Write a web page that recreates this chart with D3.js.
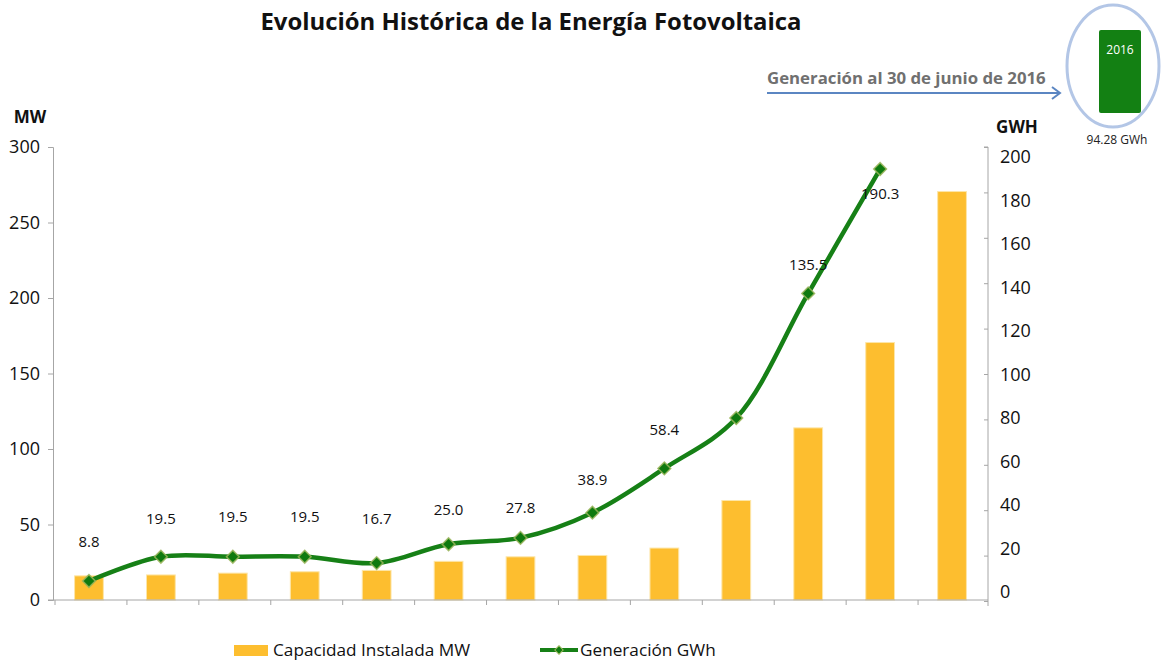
<!DOCTYPE html>
<html><head><meta charset="utf-8">
<script src="https://cdn.jsdelivr.net/npm/d3@7"></script>
<style>
body{margin:0;background:#fff;}
svg{display:block;}
text{font-family:"Open Sans","Noto Sans",sans-serif;}
</style></head>
<body>
<svg id="c" width="1162" height="661"></svg>
<script>
// ---- data ----
const categories = ["2004","2005","2006","2007","2008","2009","2010","2011","2012","2013","2014","2015","2016"];
const capacidadMW = [16, 16.6, 17.8, 18.7, 19.6, 25.6, 28.6, 29.5, 34.4, 65.9, 114, 170.5, 270.5];
const generacionGWh = [8.8, 19.5, 19.5, 19.5, 16.7, 25.0, 27.8, 38.9, 58.4, 80.6, 135.5, 190.3, null];
const generacionLabels = ["8.8","19.5","19.5","19.5","16.7","25.0","27.8","38.9","58.4",null,"135.5","190.3",null];
const leftTicks = [0,50,100,150,200,250,300];
const rightTicks = [0,20,40,60,80,100,120,140,160,180,200];
const titleText = "Evolución Histórica de la Energía Fotovoltaica";
const legendNames = ["Capacidad Instalada MW","Generación GWh"];
const insetYear = "2016";
const insetValue = "94.28 GWh";
const insetNote = "Generación al 30 de junio de 2016";

// ---- layout/style ----
const labelDy = [-39,-38,-40,-40,-44,-35,-30,-33,-39,0,-29,25,0];
const barColor = "#FDBE2F", lineColor = "#168016", axisColor = "#a6a6a6";

const svg = d3.select("#c");
const plot = {left:53, right:988, top:147, bottom:600};

const x = d3.scaleBand().domain(categories).range([plot.left, plot.right]).paddingInner(0.6).paddingOuter(0.3);
const xOuter = d3.scaleBand().domain(categories).range([plot.left, plot.right]);
const yL = d3.scaleLinear().domain([0,300]).range([plot.bottom, plot.top]);
const yR = d3.scaleLinear().domain([0,200]).range([plot.bottom+1, plot.top]);
const yRLab = d3.scaleLinear().domain([0,200]).range([592, 157]);

// title
svg.append("text").attr("x",531).attr("y",30).attr("text-anchor","middle")
  .style("font-size","23.9px").style("font-weight","700").attr("fill","#111")
  .text(titleText);

// bars
svg.append("g").selectAll("rect").data(capacidadMW).join("rect")
  .attr("x",(d,i)=>x(categories[i])).attr("width",x.bandwidth())
  .attr("y",d=>yL(d)).attr("height",d=>plot.bottom-yL(d))
  .attr("fill",barColor).attr("stroke","#fde6a8").attr("stroke-width",1);

// left axis
const gl = svg.append("g").attr("transform",`translate(${plot.left},0)`)
  .call(d3.axisLeft(yL).tickValues(leftTicks).tickSize(5).tickPadding(8));
gl.select(".domain").attr("stroke",axisColor);
gl.selectAll(".tick line").attr("stroke",axisColor);
gl.selectAll(".tick text").style("font-size","18px").attr("fill","#111").style("font-family","'Open Sans',sans-serif");

// right axis (ticks inward)
const gr = svg.append("g").attr("transform",`translate(${plot.right},0)`)
  .call(d3.axisLeft(yR).tickValues(rightTicks).tickSize(4).tickFormat(""));
gr.select(".domain").attr("stroke",axisColor).attr("d",`M-4,${plot.top}H0V${plot.bottom+6}`);
gr.selectAll(".tick line").attr("stroke",axisColor);
const grl = svg.append("g").attr("transform",`translate(${plot.right},0)`)
  .call(d3.axisRight(yRLab).tickValues(rightTicks).tickSize(0).tickPadding(12));
grl.select(".domain").remove();
grl.selectAll(".tick text").style("font-size","18px").attr("fill","#111");

// x axis
const gx = svg.append("g").attr("transform",`translate(0,${plot.bottom})`);
gx.append("line").attr("x1",plot.left-5).attr("x2",plot.right).attr("y1",0).attr("y2",0).attr("stroke",axisColor);
gx.selectAll("line.t").data(categories).join("line").attr("class","t")
  .attr("x1",d=>xOuter(d)+2).attr("x2",d=>xOuter(d)+2).attr("y1",0).attr("y2",5).attr("stroke",axisColor);

// axis titles
svg.append("text").attr("x",30).attr("y",123).attr("text-anchor","middle").style("font-size","17px").style("font-weight","700").attr("fill","#111").text("MW");
svg.append("text").attr("x",1017).attr("y",133).attr("text-anchor","middle").style("font-size","17px").style("font-weight","700").attr("fill","#111").text("GWH");

// line
const pts = generacionGWh.map((v,i)=>({v,i})).filter(d=>d.v!=null);
const cx = d=>x(categories[d.i])+x.bandwidth()/2;
const line = d3.line().x(cx).y(d=>yR(d.v)).curve(d3.curveCatmullRom.alpha(0.5));
svg.append("path").datum(pts).attr("d",line).attr("fill","none")
  .attr("stroke",lineColor).attr("stroke-width",4.5).attr("stroke-linejoin","round");
svg.append("g").selectAll("rect").data(pts).join("rect")
  .attr("x",-4.5).attr("y",-4.5).attr("width",9).attr("height",9)
  .attr("transform",d=>`translate(${cx(d)},${yR(d.v)}) rotate(45)`)
  .attr("fill","#0f7a0f").attr("stroke","#9ab55a").attr("stroke-width",1.5).attr("stroke-opacity",0.85);

// data labels
svg.append("g").selectAll("text").data(pts.filter(d=>generacionLabels[d.i]!=null)).join("text")
  .attr("x",cx).attr("y",d=>yR(d.v)+labelDy[d.i]).attr("dy","0.35em").attr("text-anchor","middle")
  .style("font-size","15px").attr("fill","#111").text(d=>generacionLabels[d.i]);

// legend
const lg = svg.append("g");
lg.append("rect").attr("x",234).attr("y",645).attr("width",34).attr("height",11).attr("fill",barColor);
lg.append("text").attr("x",273).attr("y",650).attr("dy","0.35em").style("font-size","17.2px").attr("fill","#111").text(legendNames[0]);
lg.append("line").attr("x1",540).attr("x2",578).attr("y1",650).attr("y2",650).attr("stroke",lineColor).attr("stroke-width",4);
lg.append("rect").attr("x",-3).attr("y",-3).attr("width",6).attr("height",6).attr("transform","translate(559,650) rotate(45)").attr("fill","#0f7a0f").attr("stroke","#9ab55a");
lg.append("text").attr("x",580).attr("y",650).attr("dy","0.35em").style("font-size","17.2px").attr("fill","#111").text(legendNames[1]);

// inset
svg.append("text").attr("x",767).attr("y",84).style("font-size","16.8px").style("font-weight","700").attr("fill","#707070").text(insetNote);
svg.append("line").attr("x1",767).attr("x2",1060).attr("y1",93).attr("y2",93).attr("stroke","#5b86c2").attr("stroke-width",2);
svg.append("path").attr("d","M1052,87L1060,93L1052,99").attr("fill","none").attr("stroke","#5b86c2").attr("stroke-width",2);
svg.append("ellipse").attr("cx",1113).attr("cy",66).attr("rx",46).attr("ry",61).attr("fill","none").attr("stroke","#b3c6e6").attr("stroke-width",3);
svg.append("rect").attr("x",1099).attr("y",30).attr("width",42).attr("height",83).attr("rx",2).attr("fill","#138013");
svg.append("text").attr("x",1120).attr("y",50).attr("dy","0.35em").attr("text-anchor","middle").style("font-size","12px").attr("fill","#fff").text(insetYear);
svg.append("text").attr("x",1117).attr("y",140).attr("dy","0.35em").attr("text-anchor","middle").style("font-size","12px").attr("fill","#222").text(insetValue);
</script>
</body></html>
